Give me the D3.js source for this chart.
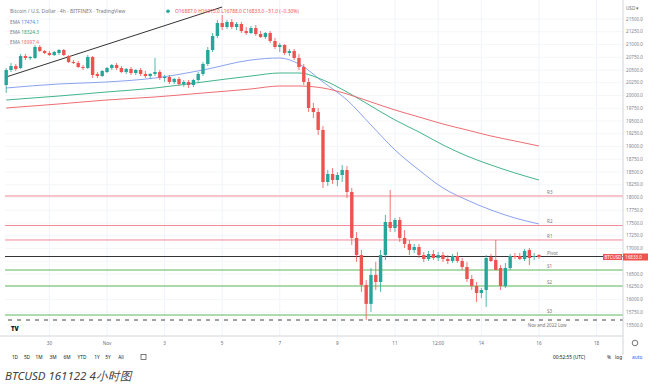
<!DOCTYPE html>
<html lang="en">
<head>
<meta charset="UTF-8">
<title>BTCUSD 161122 4h</title>
<script src="https://cdnjs.cloudflare.com/ajax/libs/d3/7.8.5/d3.min.js"></script>
<style>
  body{margin:0;background:#fff;}
  svg text{font-family:"Noto Sans",Roboto,sans-serif;}
</style>
</head>
<body>
<svg id="chart" width="660" height="387"></svg>
<script>
// 4h candles, first one is index -1
var firstIdx = -1;
var opens  = [20206,20500,20578,20539,20774,20735,20735,20951,20872,20833,20794,20833,20892,20774,20657,20637,20559,20539,20755,20422,20382,20461,20539,20598,20539,20461,20520,20441,20500,20422,20382,20422,20461,20343,20363,20265,20324,20226,20265,20206,20304,20422,20618,20892,21167,21421,21343,21441,21343,21402,21264,21225,21323,21206,21147,21225,21069,20951,20990,20833,20872,20735,20559,20265,19755,19676,19324,18304,18461,18343,18441,18539,18108,17207,16872,16286,15914,16482,16343,16872,17520,17402,17559,17207,17089,16971,17030,16872,16794,16892,16814,16872,16794,16755,16853,16755,16637,16402,16265,16128,16186,16833,16775,16618,16265,16618,16853,16853,16794,16971,16833,16872];
var highs  = [20539,20637,20618,20814,20814,20774,20990,20990,20892,20872,20872,20912,20912,20794,20696,20676,20598,20794,20774,20461,20500,20559,20618,20637,20578,20539,20559,20520,20539,20480,20441,20735,20500,20402,20402,20343,20363,20304,20304,20324,20461,20657,20951,21225,21480,21578,21480,21500,21441,21441,21343,21363,21382,21264,21245,21264,21127,21029,21010,20912,20912,20814,20618,20343,19853,19755,19402,18539,18579,18500,18637,18618,18186,17324,16971,16382,16617,16737,16971,17657,18147,17598,17618,17363,17167,17089,17089,16931,16951,16971,16931,16931,16872,16892,16931,16814,16735,16480,16343,16226,16872,16892,17167,16676,16716,16892,16912,16912,16990,17010,16912,16892];
var lows   = [20049,20461,20480,20520,20696,20696,20716,20853,20814,20774,20774,20794,20774,20637,20618,20539,20500,20520,20343,20343,20363,20441,20500,20500,20441,20422,20402,20402,20382,20343,20324,20382,20304,20265,20226,20226,20186,20167,20147,20167,20265,20382,20578,20853,21127,21284,21304,21304,21284,21225,21186,21206,21167,21127,21108,21029,20912,20853,20794,20774,20696,20500,20206,19676,19559,19226,18187,18226,18265,18226,18304,17990,17069,16737,16148,15600,15757,16186,16148,16774,17324,17324,17128,17010,16872,16912,16814,16735,16755,16774,16755,16735,16696,16716,16716,16578,16343,16186,15951,16030,15855,16735,16578,16186,16226,16578,16794,16774,16755,16676,16774,16794];
var closes = [20500,20578,20520,20774,20735,20755,20951,20872,20833,20794,20853,20892,20794,20657,20637,20559,20539,20755,20402,20382,20480,20539,20598,20539,20461,20520,20441,20500,20422,20382,20422,20461,20343,20363,20265,20324,20226,20265,20206,20304,20422,20618,20892,21167,21421,21343,21441,21343,21402,21264,21225,21323,21206,21147,21225,21069,20951,20990,20833,20872,20735,20559,20265,19755,19676,19324,18304,18461,18343,18441,18539,18108,17207,16872,16286,15914,16482,16343,16872,17520,17402,17559,17207,17089,16971,17030,16872,16794,16892,16814,16872,16794,16755,16853,16755,16637,16402,16265,16128,16186,16814,16755,16578,16265,16618,16853,16833,16794,16951,16814,16853,16833];

// EMAs read at every 5th candle or so
var emaIdx   = [-1,10,20,30,40,50,56,60,65,70,75,80,85,90,95,100,105,110];
var emaBlue  = [20147,20226,20265,20343,20500,20696,20735,20618,20265,19912,19422,18932,18539,18187,17951,17755,17598,17481];
var emaGreen = [19912,19990,20069,20147,20265,20382,20441,20441,20304,20069,19794,19520,19284,19030,18814,18637,18481,18343];
var emaRed   = [19755,19834,19912,19971,20049,20128,20186,20186,20147,20030,19873,19716,19579,19441,19324,19206,19108,19010];
var emaNames = ["EMA","EMA","EMA"];
var emaValues = ["17474.1","18324.3","18997.4"];

var trendIdx   = [-1,44];
var trendPrice = [20363,21735];

var pivotNames  = ["R3","R2","R1","Pivot","S1","S2","S3"];
var pivotPrices = [18030,17451,17167,16843,16578,16265,15696];
var lowPrice = 15598;
var lowLabel = "Nov and 2022 Low";

var lastPrice = 16833.0;
var timeTickIdx = [8,20,32,44,56,68,80,89,98,110,122];
var timeTickLabels = ["30","Nov","3","5","7","9","11","12:00","14","16","18"];
var priceTicks = [15500,15750,16000,16250,16500,16750,17000,17250,17500,17750,18000,18250,18500,18750,19000,19250,19500,19750,20000,20250,20500,20750,21000,21250,21500];
var ranges = ["1D","5D","1M","3M","6M","YTD","1Y","5Y","All"];

var upCol="#26a69a", downCol="#ef5350";
var svg=d3.select("#chart");
var plotL=5, plotR=623, plotB=336;

var x=d3.scaleLinear().domain([-1.25,122.3]).range([5,598]);
var y=d3.scaleLinear().domain([15500,21500]).range([325,19]);

var candles=opens.map(function(o,k){return {i:firstIdx+k,o:o,h:highs[k],l:lows[k],c:closes[k]};});

// grid
svg.append("g").selectAll("line").data(timeTickIdx).enter().append("line")
  .attr("x1",function(d){return x(d);}).attr("x2",function(d){return x(d);})
  .attr("y1",0).attr("y2",plotB).attr("stroke","#f0f3fa");
svg.append("g").selectAll("line").data(priceTicks).enter().append("line")
  .attr("x1",plotL).attr("x2",plotR)
  .attr("y1",function(d){return y(d);}).attr("y2",function(d){return y(d);})
  .attr("stroke","#f5f6f9");

// emas
var line=d3.line().x(function(d){return x(d[0]);}).y(function(d){return y(d[1]);}).curve(d3.curveMonotoneX);
[[emaBlue,"#8ba3f0"],[emaGreen,"#43b58a"],[emaRed,"#ee6e73"]].forEach(function(s){
  svg.append("path").datum(emaIdx.map(function(d,k){return [d,s[0][k]];}))
    .attr("d",line).attr("fill","none").attr("stroke",s[1]).attr("stroke-width",1);
});

// pivot lines
svg.append("g").selectAll("line").data(pivotPrices).enter().append("line")
  .attr("x1",plotL).attr("x2",plotR)
  .attr("y1",function(d){return y(d);}).attr("y2",function(d){return y(d);})
  .attr("stroke",function(d,k){return k<3?"#f28b95":(k==3?"#333":"#5cb85c");})
  .attr("stroke-width",function(d,k){return k==3?1.2:1;});
svg.append("g").selectAll("text").data(pivotNames).enter().append("text")
  .attr("x",x(111.7)).attr("y",function(d,k){return y(pivotPrices[k])-2;})
  .attr("font-size",4.5).attr("fill","#777").text(function(d){return d;});
svg.append("line").attr("x1",plotL+3).attr("x2",plotR)
  .attr("y1",y(lowPrice)).attr("y2",y(lowPrice))
  .attr("stroke","#444").attr("stroke-width",1).attr("stroke-dasharray","4,5");
svg.append("text").attr("x",x(111.7)).attr("y",y(lowPrice)+7).attr("text-anchor","middle")
  .attr("font-size",4.5).attr("fill","#777").text(lowLabel);

// trend line
svg.append("line").attr("x1",x(trendIdx[0])).attr("y1",y(trendPrice[0]))
  .attr("x2",x(trendIdx[1])).attr("y2",y(trendPrice[1]))
  .attr("stroke","#333").attr("stroke-width",1);

// candles
var cg=svg.append("g");
cg.selectAll("line").data(candles).enter().append("line")
  .attr("x1",function(d){return x(d.i);}).attr("x2",function(d){return x(d.i);})
  .attr("y1",function(d){return y(d.h);}).attr("y2",function(d){return y(d.l);})
  .attr("stroke",function(d){return d.c>=d.o?upCol:downCol;}).attr("stroke-width",0.8);
cg.selectAll("rect").data(candles).enter().append("rect")
  .attr("x",function(d){return x(d.i)-1.7;}).attr("width",3.4)
  .attr("y",function(d){return y(Math.max(d.o,d.c));})
  .attr("height",function(d){return Math.max(1,Math.abs(y(d.o)-y(d.c)));})
  .attr("fill",function(d){return d.c>=d.o?upCol:downCol;});

// header legend
svg.append("text").attr("x",10).attr("y",13).attr("font-size",5.1).attr("fill","#787b86")
  .text("Bitcoin / U.S. Dollar · 4h · BITFINEX · TradingView");
svg.append("circle").attr("cx",168).attr("cy",11.3).attr("r",1.8).attr("fill",upCol);
svg.append("text").attr("x",175).attr("y",13).attr("font-size",4.9).attr("fill","#ef5350")
  .text("O16887.0 H16915.0 L16788.0 C16833.0 −51.0 (−0.30%)");
var emaCols=["#5b7be8","#2fa57a","#ee6e73"];
emaNames.forEach(function(n,k){
  var t=svg.append("text").attr("x",10).attr("y",24+k*10).attr("font-size",4.8);
  t.append("tspan").attr("fill","#787b86").text(n+" ");
  t.append("tspan").attr("fill",emaCols[k]).text(emaValues[k]);
});

// right axis
svg.append("rect").attr("x",plotR).attr("y",0).attr("width",660-plotR).attr("height",plotB).attr("fill","#fff");
svg.append("line").attr("x1",plotR).attr("x2",plotR).attr("y1",0).attr("y2",355).attr("stroke","#d1d4dc");
svg.append("g").selectAll("text")
  .data(priceTicks.filter(function(d){return Math.abs(y(d)-y(lastPrice))>6;})).enter().append("text")
  .attr("x",626).attr("y",function(d){return y(d)+1.6;})
  .attr("font-size",4.6).attr("fill","#80838c").text(function(d){return d3.format(".1f")(d);});
svg.append("text").attr("x",626).attr("y",10).attr("font-size",4.6).attr("fill","#6a6d78").text("USD ▾");
svg.append("rect").attr("x",603).attr("y",y(lastPrice)-3).attr("width",19).attr("height",6).attr("fill","#ef5350");
svg.append("rect").attr("x",623).attr("y",y(lastPrice)-3.5).attr("width",25).attr("height",7).attr("fill","#ef5350");
svg.append("text").attr("x",604.5).attr("y",y(lastPrice)+1.6).attr("font-size",4.4).attr("fill","#fff").text("BTCUSD");
svg.append("text").attr("x",625).attr("y",y(lastPrice)+1.6).attr("font-size",4.6).attr("fill","#fff").text(d3.format(".1f")(lastPrice));

// time axis
svg.append("line").attr("x1",0).attr("x2",plotR).attr("y1",plotB).attr("y2",plotB).attr("stroke","#d1d4dc");
svg.append("g").selectAll("text").data(timeTickIdx).enter().append("text")
  .attr("x",function(d){return x(d);}).attr("y",345).attr("text-anchor","middle")
  .attr("font-size",4.6).attr("fill","#6a6d78").text(function(d,k){return timeTickLabels[k];});
svg.append("circle").attr("cx",635).attr("cy",343).attr("r",2.8).attr("fill","none").attr("stroke","#555").attr("stroke-width",0.8);
svg.append("text").attr("x",11).attr("y",331).attr("font-size",6).attr("font-weight",900).attr("fill","#131722").text("TV");

// bottom toolbar
var rangeX=[15,27,39,53,67,82,97,108,121];
svg.append("g").selectAll("text").data(ranges).enter().append("text")
  .attr("x",function(d,k){return rangeX[k];}).attr("y",359).attr("text-anchor","middle")
  .attr("font-size",4.8).attr("fill","#131722").text(function(d){return d;});
svg.append("rect").attr("x",141).attr("y",354.5).attr("width",5).attr("height",5).attr("fill","none").attr("stroke","#444").attr("stroke-width",0.7);
svg.append("text").attr("x",553).attr("y",359).attr("font-size",4.8).attr("fill","#131722").text("00:52:55 (UTC)");
svg.append("text").attr("x",607).attr("y",359).attr("font-size",4.8).attr("fill","#131722").text("%");
svg.append("text").attr("x",615).attr("y",359).attr("font-size",4.8).attr("fill","#131722").text("log");
svg.append("text").attr("x",632).attr("y",359).attr("font-size",4.8).attr("fill","#2962ff").text("auto");

// caption
svg.append("text").attr("x",5).attr("y",380).attr("font-size",11.5).attr("font-style","italic")
  .attr("fill","#444").text("BTCUSD 161122 4小时图");
</script>
</body>
</html>
